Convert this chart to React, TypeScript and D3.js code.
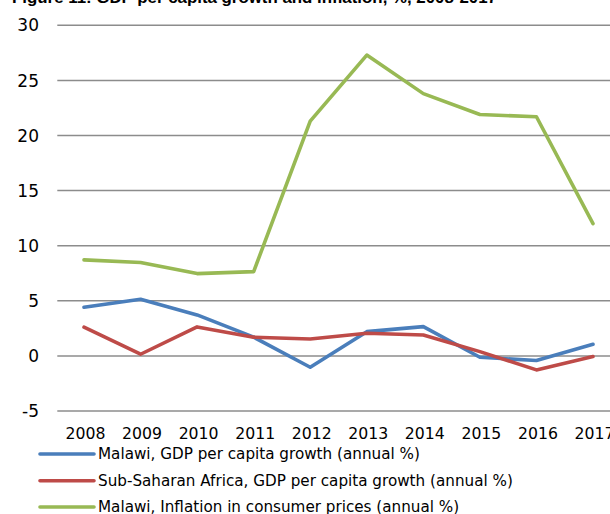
import React from "react";
import * as d3 from "d3";

const years = ["2008","2009","2010","2011","2012","2013","2014","2015","2016","2017"];
const malawiGdp = [4.42, 5.14, 3.72, 1.7, -1.03, 2.2, 2.66, -0.12, -0.42, 1.06];
const ssaGdp = [2.6, 0.15, 2.63, 1.7, 1.54, 2.06, 1.9, 0.39, -1.27, -0.06];
const malawiInfl = [8.71, 8.47, 7.47, 7.65, 21.3, 27.3, 23.8, 21.9, 21.7, 12.0];
const yTicks = [30, 25, 20, 15, 10, 5, 0, -5];
const seriesNames = [
  "Malawi, GDP per capita growth (annual %)",
  "Sub-Saharan Africa, GDP per capita growth (annual %)",
  "Malawi, Inflation in consumer prices (annual %)",
];
const title = "Figure 11: GDP per capita growth and inflation, %, 2008-2017";

const colors = ["#4a7ebb", "#be4b48", "#98b954"];
const font = "'DejaVu Sans', sans-serif";

export default function App() {
  const W = 610, H = 514;
  const x = d3.scalePoint<string>().domain(years).range([84, 593]);
  const y = d3.scaleLinear().domain([-5, 30]).range([411, 25.3]);
  const series = [malawiGdp, ssaGdp, malawiInfl];
  const line = d3.line<number>().x((_, i) => x(years[i])!).y((d) => y(d));
  const legendY = [454, 480.7, 507];
  return (
    <svg width={W} height={H} style={{ position: "absolute", left: 0, top: 0, display: "block", background: "#fff" }}>
      <text x={12} y={3} fontFamily="'Liberation Sans', Arial, sans-serif" fontWeight="bold" fontSize={16} textLength={485} lengthAdjust="spacingAndGlyphs" fill="#000">{title}</text>
      {yTicks.map((t) => (
        <g key={t}>
          <line x1={57.3} x2={W} y1={y(t)} y2={y(t)} stroke="#8c8c8c" strokeWidth={1.5} />
          <text x={39} y={y(t)} dy="0.36em" textAnchor="end" fontFamily={font} fontSize={17} fill="#000">{t}</text>
        </g>
      ))}
      {years.map((yr) => (
        <text key={yr} x={x(yr)! + 1.5} y={438.5} textAnchor="middle" fontFamily={font} fontSize={15.7} fill="#000">{yr}</text>
      ))}
      {series.map((s, i) => (
        <path key={i} d={line(s)!} fill="none" stroke={colors[i]} strokeWidth={3.6} strokeLinejoin="round" strokeLinecap="round" />
      ))}
      {seriesNames.map((n, i) => (
        <g key={n}>
          <line x1={40} x2={94} y1={legendY[i]} y2={legendY[i]} stroke={colors[i]} strokeWidth={3.6} strokeLinecap="round" />
          <text x={98} y={legendY[i]} dy="0.36em" fontFamily={font} fontSize={15.2} fill="#000">{n}</text>
        </g>
      ))}
    </svg>
  );
}
